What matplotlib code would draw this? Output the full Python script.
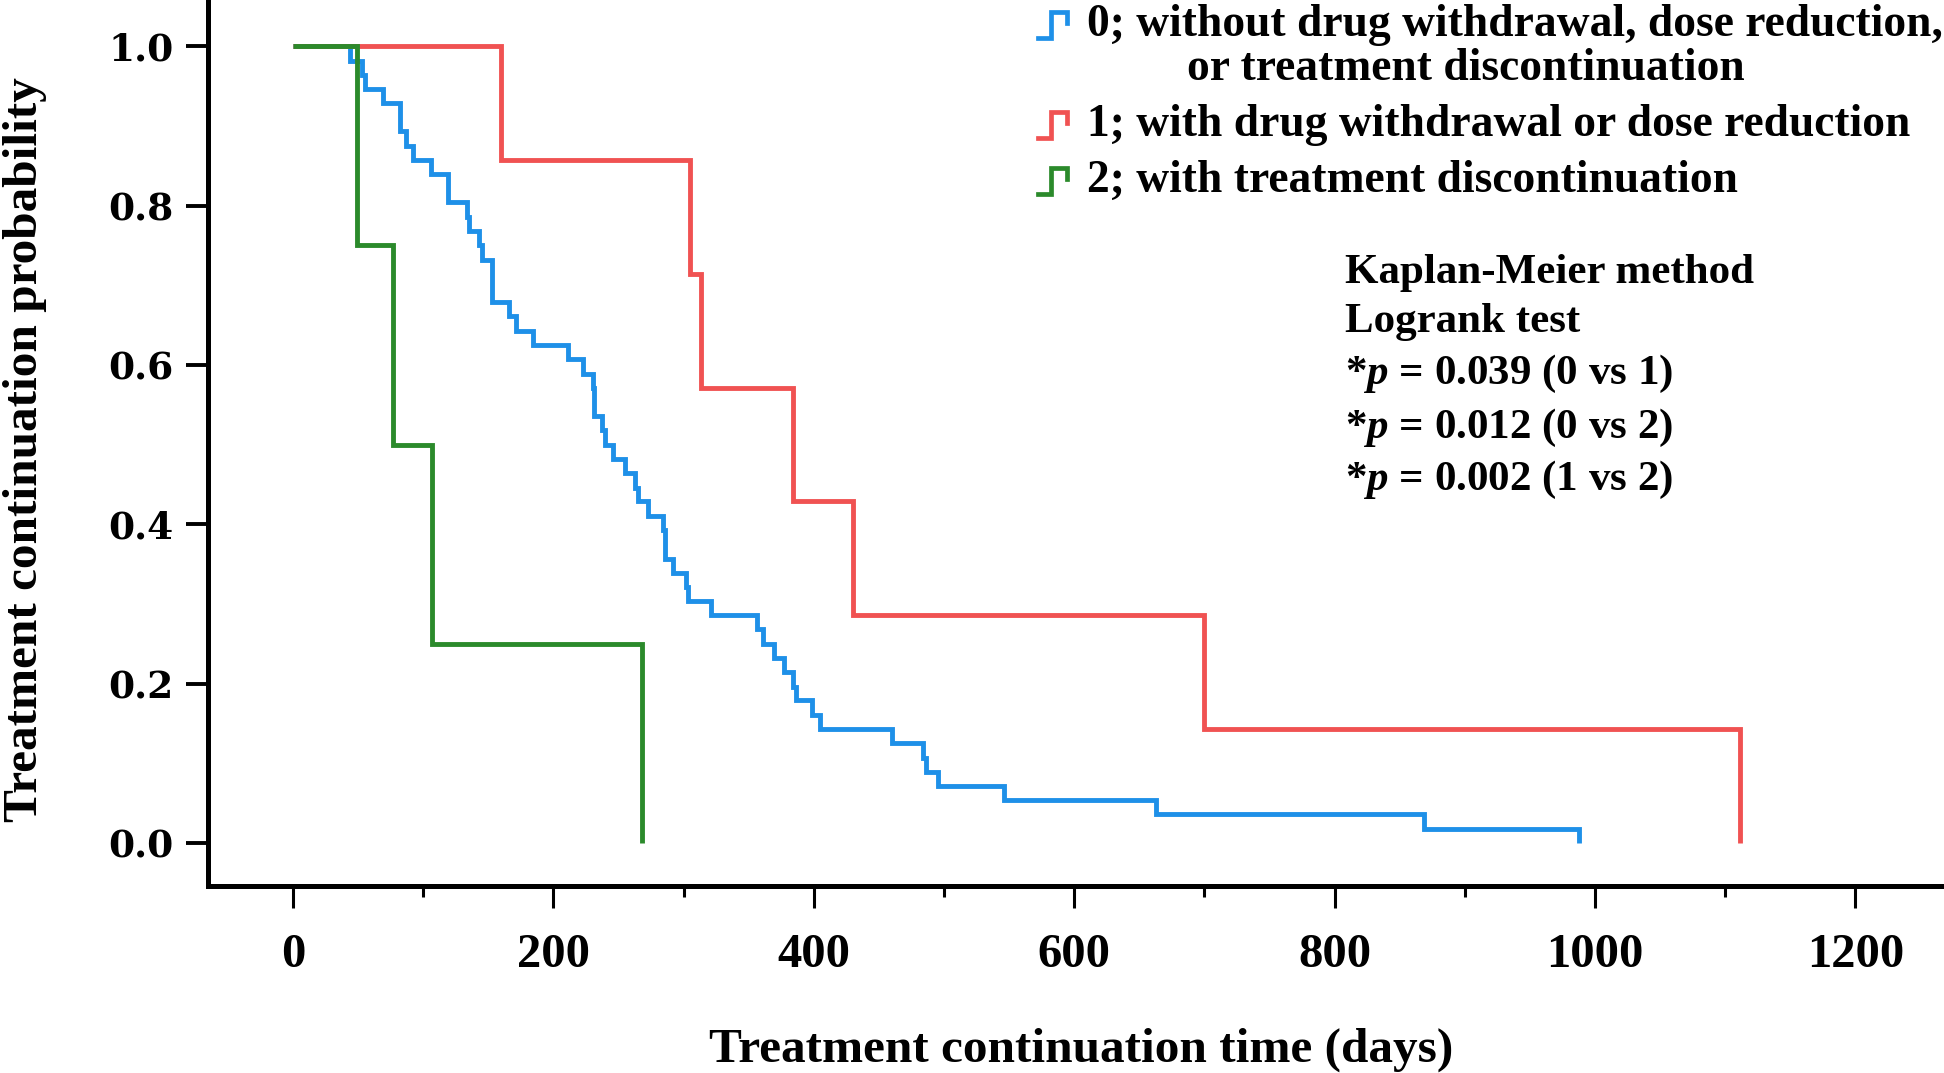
import matplotlib
matplotlib.use('Agg')
import matplotlib.pyplot as plt
from matplotlib.lines import Line2D

plt.rcParams['font.family'] = ['Liberation Serif', 'DejaVu Serif']
plt.rcParams['font.weight'] = 'bold'
plt.rcParams['mathtext.fontset'] = 'custom'
plt.rcParams['mathtext.it'] = 'Liberation Serif:italic:bold'
plt.rcParams['mathtext.rm'] = 'Liberation Serif:bold'

# Kaplan-Meier curves (days, survival)
group0_days = [0, 44, 53, 55, 69, 82, 87, 92, 106, 119,
               134, 135, 143, 145, 153, 166, 171, 184, 211, 223,
               230.5, 231.5, 237, 239.5, 246, 255, 262.5, 265, 273, 284.3,
               285.6, 292, 301.5, 303.6, 321, 356, 361, 369.5, 377, 384,
               386, 398.5, 404.5, 460, 484, 486, 495.5, 546, 663, 869, 988]
group0_surv = [1.0, 0.982, 0.964, 0.946, 0.929, 0.893, 0.875, 0.857, 0.839, 0.804,
               0.786, 0.768, 0.750, 0.732, 0.679, 0.661, 0.643, 0.625, 0.607, 0.589,
               0.571, 0.536, 0.518, 0.500, 0.482, 0.464, 0.446, 0.429, 0.411, 0.393,
               0.357, 0.339, 0.321, 0.304, 0.286, 0.268, 0.250, 0.232, 0.214, 0.196,
               0.179, 0.161, 0.143, 0.125, 0.107, 0.089, 0.071, 0.054, 0.036, 0.018, 0.0]

group1_days = [0, 160, 305, 313, 384, 430, 700, 1111]
group1_surv = [1.0, 0.857, 0.714, 0.571, 0.429, 0.286, 0.143, 0.0]

group2_days = [0, 49, 77, 107, 268]
group2_surv = [1.0, 0.75, 0.5, 0.25, 0.0]

labels = ['0; without drug withdrawal, dose reduction,',
          '1; with drug withdrawal or dose reduction',
          '2; with treatment discontinuation']
colors = ['#1E90E8', '#F05252', '#2B8A2B']

stats_lines = ['Kaplan-Meier method', 'Logrank test',
               r'*$\mathit{p}$ = 0.039 (0 vs 1)',
               r'*$\mathit{p}$ = 0.012 (0 vs 2)',
               r'*$\mathit{p}$ = 0.002 (1 vs 2)']

W, H = 1944, 1073
fig = plt.figure(figsize=(W / 100, H / 100), dpi=100)
ax = fig.add_axes([208 / W, 1 - 886 / H, 1 - 208 / W, 886 / H])

lw = 3.5
ax.step(group0_days, group0_surv, where='post', color=colors[0], lw=lw,
        solid_joinstyle='miter', solid_capstyle='butt')
ax.step(group1_days, group1_surv, where='post', color=colors[1], lw=lw,
        solid_joinstyle='miter', solid_capstyle='butt')
ax.step(group2_days, group2_surv, where='post', color=colors[2], lw=lw,
        solid_joinstyle='miter', solid_capstyle='butt')

ax.set_xlim(-65.3, 1268)
ax.set_ylim(-0.054, 1.058)

for s in ['top', 'right']:
    ax.spines[s].set_visible(False)
for s in ['left', 'bottom']:
    ax.spines[s].set_linewidth(3.6)

ax.set_xticks([0, 200, 400, 600, 800, 1000, 1200])
ax.set_xticks([100, 300, 500, 700, 900, 1100], minor=True)
ax.set_yticks([0.0, 0.2, 0.4, 0.6, 0.8, 1.0])
ax.set_yticklabels(['0.0', '0.2', '0.4', '0.6', '0.8', '1.0'],
                   fontfamily='DejaVu Serif', fontweight='bold', fontsize=27)
ax.set_xticklabels(['0', '200', '400', '600', '800', '1000', '1200'],
                   fontsize=35, fontweight='bold')
ax.tick_params(axis='x', which='major', length=16, width=2.2, pad=18)
ax.tick_params(axis='x', which='minor', length=8, width=2.2)
ax.tick_params(axis='y', which='major', length=16, width=2.8, pad=9)

fig.text(1081 / W, 1 - 1050 / H, 'Treatment continuation time (days)',
         ha='center', va='center', fontsize=35.5, fontweight='bold')
fig.text(25 / W, 1 - 450 / H, 'Treatment continuation probability',
         ha='center', va='center', rotation=90, fontsize=35.5, fontweight='bold')

# legend: small step icons + text
icon_y = [25, 125, 181]
for yc, col, lab in zip(icon_y, colors, labels):
    xs = [1038, 1051, 1051, 1067, 1067]
    ys = [yc + 13, yc + 13, yc - 13, yc - 13, yc - 2]
    fig.add_artist(Line2D([x / W for x in xs], [1 - y / H for y in ys],
                          transform=fig.transFigure, color=col, lw=3.4,
                          solid_joinstyle='miter'))
    fig.text(1087 / W, 1 - yc / H, lab, ha='left', va='center',
             fontsize=32.8, fontweight='bold')
fig.text(1187 / W, 1 - 69 / H, 'or treatment discontinuation', ha='left',
         va='center', fontsize=32.8, fontweight='bold')

stats_y = [273, 322, 374, 428, 480]
for yc, line in zip(stats_y, stats_lines):
    fig.text(1345 / W, 1 - yc / H, line, ha='left', va='center',
             fontsize=31, fontweight='bold')

fig.savefig('out.png', dpi=100)
